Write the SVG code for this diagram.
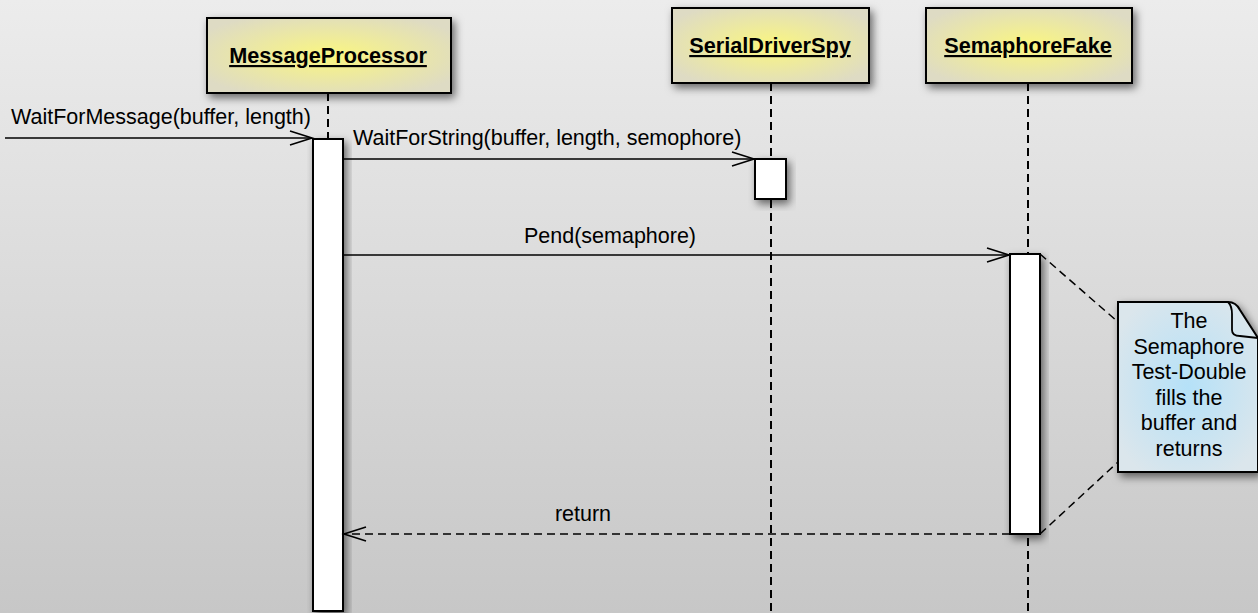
<svg xmlns="http://www.w3.org/2000/svg" width="1258" height="613" viewBox="0 0 1258 613">
<defs>
  <linearGradient id="bg" x1="0" y1="0" x2="0" y2="1">
    <stop offset="0" stop-color="#ececec"/>
    <stop offset="1" stop-color="#c7c7c7"/>
  </linearGradient>
  <radialGradient id="yel" cx="0.5" cy="0.5" r="0.6">
    <stop offset="0" stop-color="#faf680"/>
    <stop offset="1" stop-color="#dedbc4"/>
  </radialGradient>
  <radialGradient id="blu" cx="0.5" cy="0.5" r="0.6">
    <stop offset="0" stop-color="#b5e1f8"/>
    <stop offset="1" stop-color="#dbe6ec"/>
  </radialGradient>
  <filter id="sh" x="-20%" y="-20%" width="150%" height="150%">
    <feDropShadow dx="3" dy="4" stdDeviation="4" flood-color="#000" flood-opacity="0.55"/>
  </filter>
  <marker id="open" markerWidth="26" markerHeight="18" refX="23" refY="8" orient="auto" markerUnits="userSpaceOnUse">
    <path d="M1,1 L23,8 L1,15" fill="none" stroke="#000" stroke-width="1.6"/>
  </marker>
</defs>
<style>
  .head{fill:url(#yel);stroke:#000;stroke-width:2;filter:url(#sh)}
  .hl{font-family:"Liberation Sans",Arial,sans-serif;font-size:21.7px;font-weight:bold;text-anchor:middle;text-decoration:underline;fill:#000}
  .life{stroke:#000;stroke-width:2;stroke-dasharray:8,5;fill:none}
  .act{fill:#fff;stroke:#000;stroke-width:2;filter:url(#sh)}
  .msg{stroke:#000;stroke-width:1.6;fill:none;marker-end:url(#open)}
  .ret{stroke:#000;stroke-width:1.6;fill:none;stroke-dasharray:8,5;marker-end:url(#open)}
  .lbl{font-family:"Liberation Sans",Arial,sans-serif;font-size:21.5px;fill:#000}
  .nt{font-family:"Liberation Sans",Arial,sans-serif;font-size:21.5px;fill:#000;text-anchor:middle}
  .anc{stroke:#000;stroke-width:1.5;stroke-dasharray:8,5;fill:none}
</style>
<rect x="0" y="0" width="1258" height="613" fill="url(#bg)"/>

<g id="lifelines">
  <line class="life" x1="328" y1="93" x2="328" y2="613"/>
  <line class="life" x1="771" y1="83" x2="771" y2="613"/>
  <line class="life" x1="1028" y1="83" x2="1028" y2="613"/>
</g>

<g id="MessageProcessor">
  <rect class="head" x="207" y="18" width="244" height="75"/>
  <text class="hl" x="328" y="63">MessageProcessor</text>
</g>
<g id="SerialDriverSpy">
  <rect class="head" x="672" y="8" width="197" height="75"/>
  <text class="hl" x="770" y="53">SerialDriverSpy</text>
</g>
<g id="SemaphoreFake">
  <rect class="head" x="926" y="8" width="206" height="75"/>
  <text class="hl" x="1028" y="53">SemaphoreFake</text>
</g>

<g id="activation-mp">
  <rect class="act" x="313" y="139" width="30" height="472"/>
</g>
<g id="activation-sds">
  <rect class="act" x="755" y="159" width="31" height="40"/>
</g>
<g id="activation-sf">
  <rect class="act" x="1010" y="254" width="30" height="280"/>
</g>

<g id="note">
  <path d="M1118,302 L1228,302 Q1236,302 1240,310 L1258,338 L1258,472 L1118,472 Z" fill="url(#blu)" stroke="#000" stroke-width="2" filter="url(#sh)"/>
  <path d="M1228,302 Q1232,306 1232,314 L1232,330 Q1232,336 1240,336 L1258,338" fill="none" stroke="#000" stroke-width="1.8"/>
  <text class="nt" x="1189" y="328">The</text>
  <text class="nt" x="1189" y="353.5">Semaphore</text>
  <text class="nt" x="1189" y="379">Test-Double</text>
  <text class="nt" x="1189" y="404.5">fills the</text>
  <text class="nt" x="1189" y="430">buffer and</text>
  <text class="nt" x="1189" y="455.5">returns</text>
</g>

<g id="connectors">
  <line class="msg" x1="5" y1="138" x2="312" y2="138"/>
  <line class="msg" x1="343" y1="159" x2="754" y2="159"/>
  <line class="msg" x1="343" y1="255" x2="1009" y2="255"/>
  <line class="ret" x1="1010" y1="534" x2="344" y2="534"/>
  <line class="anc" x1="1040" y1="254" x2="1118" y2="322"/>
  <line class="anc" x1="1040" y1="534" x2="1118" y2="462"/>
  <text class="lbl" x="11" y="124">WaitForMessage(buffer, length)</text>
  <text class="lbl" x="353" y="145">WaitForString(buffer, length, semophore)</text>
  <text class="lbl" x="610" y="243" text-anchor="middle">Pend(semaphore)</text>
  <text class="lbl" x="583" y="521" text-anchor="middle">return</text>
</g>
</svg>
